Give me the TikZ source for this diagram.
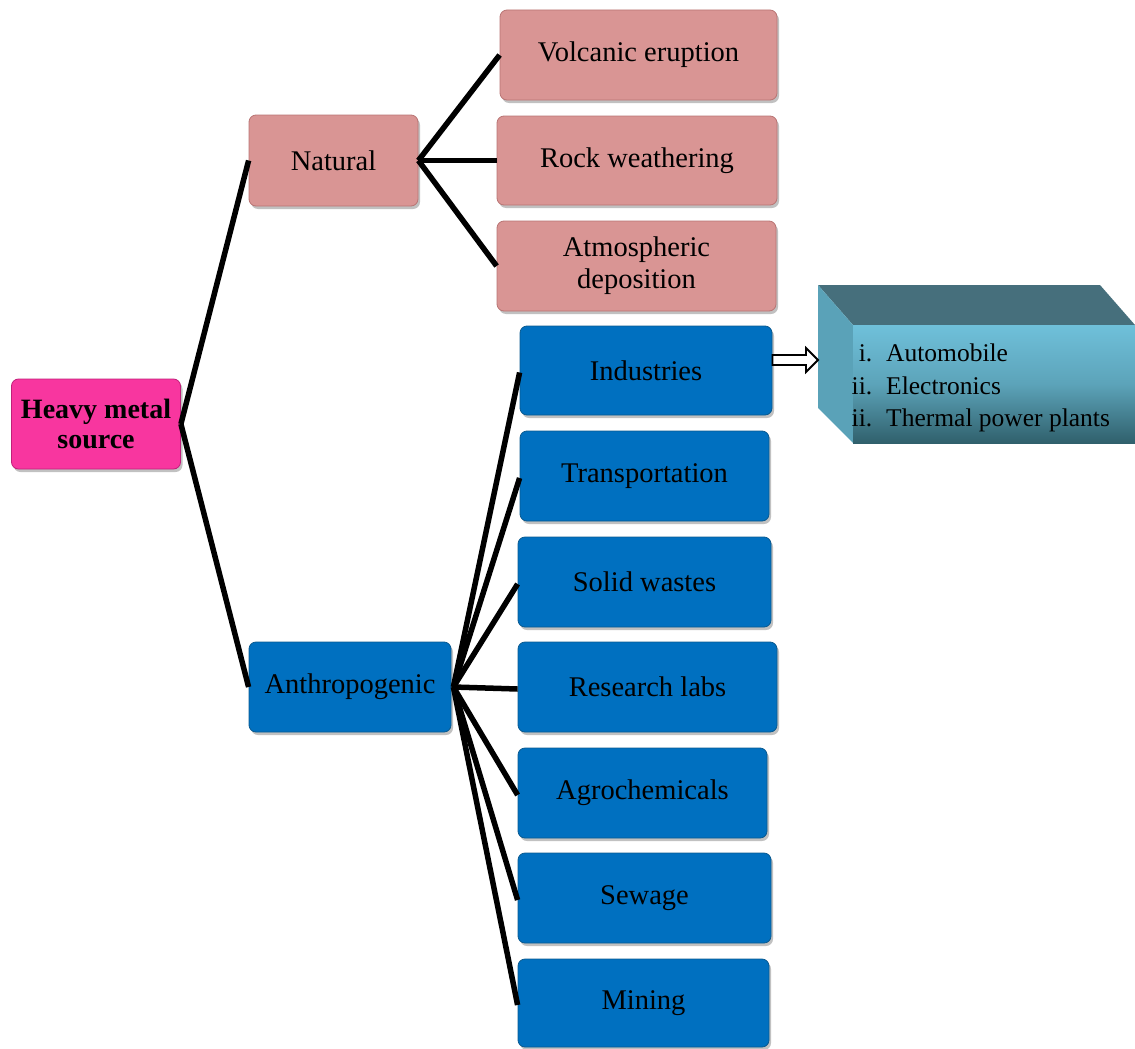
\documentclass[tikz,border=0pt]{standalone}
\usepackage{fontspec}
\setmainfont{Liberation Serif}
\usetikzlibrary{shadows,calc}
\definecolor{pinkf}{HTML}{D99594}
\definecolor{pinkd}{HTML}{B97574}
\definecolor{bluef}{HTML}{0070C0}
\definecolor{blued}{HTML}{0A5A90}
\definecolor{magf}{HTML}{F8369F}
\definecolor{magd}{HTML}{C0207A}
\definecolor{cubetop}{HTML}{466F7C}
\definecolor{cubefronttop}{HTML}{6FC0DA}
\definecolor{cubefrontbot}{HTML}{30606C}
\definecolor{cubeside}{HTML}{5AA2B8}
\tikzset{
  basebox/.style={rounded corners=7pt, draw=#1, line width=0.8pt, align=center,
    inner sep=0pt, font=\fontsize{28.5}{32}\selectfont,
    drop shadow={shadow xshift=2pt, shadow yshift=-3pt, opacity=0.35, fill=black!70}},
  pinkbox/.style={basebox=pinkd, fill=pinkf},
  bluebox/.style={basebox=blued, fill=bluef},
  rootbox/.style={basebox=magd, fill=magf, font=\fontsize{28}{30}\selectfont\bfseries},
  conn/.style={line width=5.5pt, black},
}
\begin{document}
\begin{tikzpicture}[x=1pt,y=-1pt]
\useasboundingbox (0,0) rectangle (1135,1049);
% root
\node[rootbox, minimum width=169pt, minimum height=90pt] (root) at (96,424) {Heavy metal\\source};
% natural branch
\node[pinkbox, minimum width=169pt, minimum height=91pt] (nat) at (333.5,160.5) {Natural};
\node[pinkbox, minimum width=277pt, minimum height=90pt] (volc) at (638.5,55) {Volcanic eruption};
\node[pinkbox, minimum width=280pt, minimum height=89pt] (rock) at (637,160.5) {Rock weathering};
\node[pinkbox, minimum width=279pt, minimum height=90pt] (atm) at (636.5,266) {Atmospheric\\deposition};
% anthropogenic branch
\node[bluebox, minimum width=202pt, minimum height=90pt] (anth) at (350,687) {Anthropogenic};
\node[bluebox, minimum width=252pt, minimum height=89pt] (ind) at (646,370.5) {Industries};
\node[bluebox, minimum width=249pt, minimum height=90pt] (tra) at (644.5,476) {Transportation};
\node[bluebox, minimum width=253pt, minimum height=90pt] (sol) at (644.5,582) {Solid wastes};
\node[bluebox, minimum width=259pt, minimum height=90pt] (res) at (647.5,687) {Research labs};
\node[bluebox, minimum width=249pt, minimum height=90pt] (agr) at (642.5,793) {Agrochemicals};
\node[bluebox, minimum width=253pt, minimum height=90pt] (sew) at (644.5,898) {Sewage};
\node[bluebox, minimum width=251pt, minimum height=88pt] (min) at (643.5,1003) {Mining};
% connectors
\coordinate (rj) at (root.east);
\draw[conn] (rj) -- (nat.west);
\draw[conn] (rj) -- (anth.west);
\coordinate (nj) at (nat.east);
\draw[conn] (nj) -- (volc.west);
\draw[conn] (nj) -- (rock.west);
\draw[conn] (nj) -- (atm.west);
\coordinate (aj) at ($(anth.east)+(2,0)$);
\foreach \n in {ind,tra,sol,res,agr,sew,min} {
  \draw[conn] (aj) -- ($(\n.west)+(0,2)$);
}
% 3D box
\coordinate (c1) at (818,285);
\coordinate (c2) at (1100,285);
\coordinate (c3) at (1135,325);
\coordinate (c4) at (853,325);
\coordinate (c5) at (853,443);
\coordinate (c6) at (1135,443);
\coordinate (c7) at (818,408);
\fill[cubetop] (c1) -- (c2) -- (c3) -- (c4) -- cycle;
\fill[cubeside] (c1) -- (c4) -- (c5) -- (c7) -- cycle;
\shade[top color=cubefronttop, bottom color=cubefrontbot, middle color=cubefronttop!70!cubefrontbot] (c4) rectangle (c6);
\node[anchor=north west, align=left, inner sep=0pt, font=\fontsize{25.5}{32.5}\selectfont] (list) at (851,344)
  {\makebox[21pt][r]{i.}\hspace{14pt}Automobile\\
   \makebox[21pt][r]{ii.}\hspace{14pt}Electronics\\
   \makebox[21pt][r]{ii.}\hspace{14pt}Thermal power plants};
% hollow arrow
\coordinate (a1) at (ind.east |- 0,360);
\coordinate (a2) at (818,360);
\draw[line width=1.8pt, fill=white, line join=miter]
  ($(a1)+(0,-5)$) -- ($(a2)+(-12,-5)$) -- ($(a2)+(-12,-12)$) -- (a2)
  -- ($(a2)+(-12,12)$) -- ($(a2)+(-12,5)$) -- ($(a1)+(0,5)$) -- cycle;
\end{tikzpicture}
\end{document}
